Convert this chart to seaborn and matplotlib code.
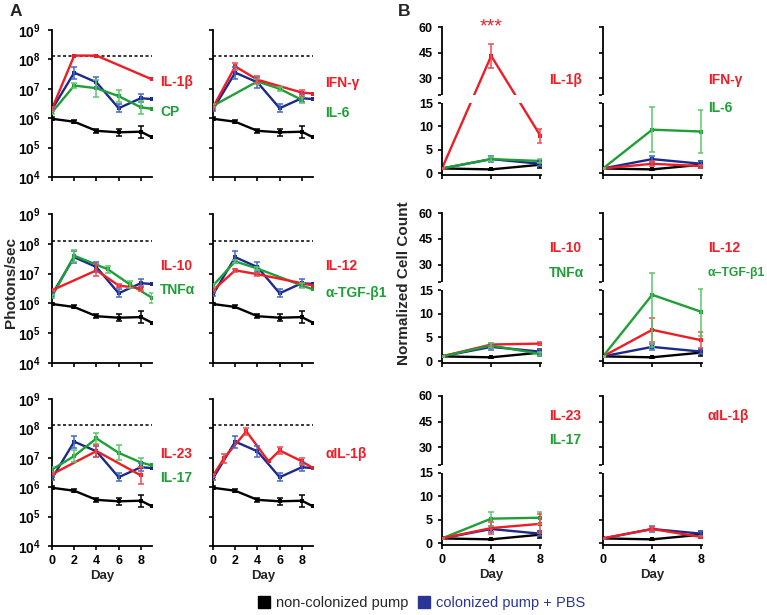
import numpy as np
import matplotlib
matplotlib.use('Agg')
import matplotlib.pyplot as plt
import seaborn as sns
from matplotlib.lines import Line2D
from matplotlib.patches import Rectangle
from matplotlib.ticker import NullLocator
from matplotlib.transforms import blended_transform_factory

sns.set_style('ticks')
plt.rcParams['font.family'] = ['Liberation Sans', 'DejaVu Sans']
plt.rcParams['mathtext.fontset'] = 'custom'
plt.rcParams['mathtext.rm'] = 'Liberation Sans:bold'
plt.rcParams['mathtext.bf'] = 'Liberation Sans:bold'
plt.rcParams['mathtext.it'] = 'Liberation Sans:bold'

RED = '#ee1d25'
RED_E = '#f04a50'
GREEN = '#1e9f36'
GREEN_E = '#5cc66b'
BLUE = '#1b2a8c'
BLUE_E = '#4468c8'
BLACK = '#000000'

# --- Panel A: bioluminescence, log10(photons/sec) ---
ctrl_a_days = [0, 2, 4, 6, 8, 9]
ctrl_a_log = [5.98, 5.88, 5.57, 5.52, 5.54, 5.35]
ctrl_a_err = [0.05, 0.05, 0.06, 0.12, 0.2, 0]
pbs_a_days = [0, 2, 4, 6, 8, 9]
pbs_a_log = [6.3, 7.55, 7.22, 6.34, 6.68, 6.65]
pbs_a_err = [0.05, 0.2, 0.18, 0.14, 0.13, 0]

il1b_days = [0, 2, 4, 9]
il1b_log = [6.32, 8.13, 8.13, 7.32]
il1b_err = [0.05, 0, 0, 0]
cp_days = [0, 2, 4, 6, 8, 9]
cp_log = [6.2, 7.11, 7.02, 6.75, 6.37, 6.32]
cp_err = [0.05, 0.08, 0.29, 0.2, 0.22, 0]
ifng_days = [0, 2, 4, 8, 9]
ifng_log = [6.37, 7.76, 7.31, 6.87, 6.84]
ifng_err = [0.06, 0.12, 0.12, 0.1, 0]
il6_days = [0, 4, 6, 8]
il6_log = [6.42, 7.25, 7.0, 6.62]
il6_err = [0.05, 0.1, 0.06, 0.1]
il10_days = [0, 4, 6, 8]
il10_log = [6.44, 7.11, 6.6, 6.5]
il10_err = [0.03, 0.2, 0.05, 0.08]
tnfa_days = [0, 2, 5, 7, 9]
tnfa_log = [6.23, 7.6, 7.15, 6.64, 6.19]
tnfa_err = [0.05, 0.2, 0.12, 0.12, 0.17]
il12_days = [0, 2, 4, 9]
il12_log = [6.44, 7.11, 6.98, 6.6]
il12_err = [0.03, 0.05, 0.05, 0]
tgfb_days = [0, 2, 4, 8, 9]
tgfb_log = [6.6, 7.41, 7.17, 6.6, 6.47]
tgfb_err = [0.05, 0.05, 0.05, 0.1, 0]
il23_days = [0, 4, 8]
il23_log = [6.44, 7.23, 6.4]
il23_err = [0.03, 0.2, 0.3]
il17_days = [0, 2, 4, 6, 8, 9]
il17_log = [6.6, 7.06, 7.66, 7.17, 6.84, 6.74]
il17_err = [0.08, 0.2, 0.2, 0.25, 0.15, 0]
ail1b_days = [0, 1, 3, 5, 6, 8, 9]
ail1b_log = [6.39, 6.99, 7.9, 6.88, 7.25, 6.88, 6.65]
ail1b_err = [0.05, 0.15, 0.13, 0, 0.12, 0.12, 0]
limit_log = 8.11

# --- Panel B: normalized cell count ---
days_b = [0, 4, 8]
ctrl_b = [1.0, 0.8, 1.8]
ctrl_b_err = [0.1, 0.15, 0.8]
pbs_b = [1.0, 3.0, 2.0]
pbs_b_err = [0.1, 0.6, 0.5]
il1b_b = [1.0, 43.0, 8.0]
il1b_b_err = [0.1, 7.2, 1.5]
cp_b = [1.0, 3.0, 2.6]
cp_b_err = [0.1, 0.5, 0.4]
ifng_b = [1.0, 2.0, 1.5]
ifng_b_err = [0.1, 0.5, 0.3]
il6_b = [1.0, 9.3, 8.9]
il6_b_err = [0.1, 4.8, 4.6]
il10_b = [1.0, 3.5, 3.7]
il10_b_err = [0.1, 0.4, 0.3]
tnfa_b = [1.0, 3.3, 1.5]
tnfa_b_err = [0.1, 0.5, 0.4]
il12_b = [1.0, 6.6, 4.4]
il12_b_err = [0.1, 2.6, 1.7]
tgfb_b = [1.0, 14.0, 10.4]
tgfb_b_err = [0.1, 11.0, 5.0]
il23_b = [1.0, 3.2, 4.1]
il23_b_err = [0.1, 1.2, 2.0]
il17_b = [1.0, 5.2, 5.4]
il17_b_err = [0.1, 1.5, 1.3]
ail1b_b = [1.0, 3.0, 1.3]
ail1b_b_err = [0.1, 0.4, 0.3]

W, H = 767, 615
fig = plt.figure(figsize=(W / 100, H / 100), dpi=100)


def px_axes(left, top, right, bottom):
    return fig.add_axes([left / W, 1 - bottom / H, (right - left) / W, (bottom - top) / H])


def draw(ax, days, vals, errs, color, ecolor, log=False):
    days = np.asarray(days, float)
    vals = np.asarray(vals, float)
    errs = np.asarray(errs, float)
    if log:
        y = 10 ** vals
        lo = y - 10 ** (vals - errs)
        hi = 10 ** (vals + errs) - y
    else:
        y, lo, hi = vals, errs, errs
    ms = 3.5 if color == BLACK else 2.5
    sns.lineplot(x=days, y=y, ax=ax, color=color, lw=1.7, marker='s', ms=ms,
                 mew=0, sort=False, estimator=None, errorbar=None, legend=False)
    m = errs > 0
    ax.errorbar(days[m], y[m], yerr=[lo[m], hi[m]], fmt='none', ecolor=ecolor,
                elinewidth=1.1, capsize=2, capthick=1.1, zorder=4)


def style_axis(ax):
    sns.despine(ax=ax)
    for s in ('left', 'bottom'):
        ax.spines[s].set_linewidth(1.3)
        ax.spines[s].set_color('black')
    ax.tick_params(length=3, width=1.2, colors='black', labelsize=9)
    for lab in ax.get_xticklabels() + ax.get_yticklabels():
        lab.set_fontweight('bold')


# ---------------- Panel A ----------------
a_cols = [(52, 152), (213, 313)]
a_rows = [(30, 177), (214, 363), (399, 546)]
a_label_x = [1.08, 1.12]
panels_a = [
    (0, 0, [(cp_days, cp_log, cp_err, GREEN, GREEN_E), (il1b_days, il1b_log, il1b_err, RED, RED_E)],
     [('IL-1β', RED, 0.646), ('CP', GREEN, 0.44)]),
    (0, 1, [(il6_days, il6_log, il6_err, GREEN, GREEN_E), (ifng_days, ifng_log, ifng_err, RED, RED_E)],
     [('IFN-γ', RED, 0.64), ('IL-6', GREEN, 0.435)]),
    (1, 0, [(tnfa_days, tnfa_log, tnfa_err, GREEN, GREEN_E), (il10_days, il10_log, il10_err, RED, RED_E)],
     [('IL-10', RED, 0.65), ('TNFα', GREEN, 0.49)]),
    (1, 1, [(tgfb_days, tgfb_log, tgfb_err, GREEN, GREEN_E), (il12_days, il12_log, il12_err, RED, RED_E)],
     [('IL-12', RED, 0.65), ('α-TGF-β1', GREEN, 0.47)]),
    (2, 0, [(il17_days, il17_log, il17_err, GREEN, GREEN_E), (il23_days, il23_log, il23_err, RED, RED_E)],
     [('IL-23', RED, 0.626), ('IL-17', GREEN, 0.46)]),
    (2, 1, [(ail1b_days, ail1b_log, ail1b_err, RED, RED_E)],
     [('αIL-1β', RED, 0.626)]),
]

decades = [4, 5, 6, 7, 8, 9]
for row, col, series, labels in panels_a:
    l, r = a_cols[col]
    t, b = a_rows[row]
    ax = px_axes(l, t, r, b)
    ax.set_yscale('log')
    ax.axhline(10 ** limit_log, color='black', lw=1.1, ls=(0, (2, 1.6)), zorder=1)
    draw(ax, ctrl_a_days, ctrl_a_log, ctrl_a_err, BLACK, BLACK, log=True)
    draw(ax, pbs_a_days, pbs_a_log, pbs_a_err, BLUE, BLUE_E, log=True)
    for d, v, e, c, ec in series:
        draw(ax, d, v, e, c, ec, log=True)
    ax.set_xlim(0, 9)
    ax.set_ylim(1e4, 1e9)
    ax.set_xticks([0, 2, 4, 6, 8])
    ax.set_yticks([10.0 ** k for k in decades])
    ax.yaxis.set_minor_locator(NullLocator())
    if col == 0:
        ax.set_yticklabels([rf'$10^{{{k}}}$' for k in decades])
    else:
        ax.set_yticklabels([])
    if row == 2:
        ax.set_xticklabels(['0', '2', '4', '6', '8'])
        ax.set_xlabel('Day', fontsize=9.5, fontweight='bold', labelpad=2)
    else:
        ax.set_xticklabels([])
    ax.set_ylabel('')
    style_axis(ax)
    ax.tick_params(axis='y', pad=5, labelsize=10)
    for txt, c, yy in labels:
        ax.text(a_label_x[col], yy, txt, transform=ax.transAxes, color=c,
                fontsize=10, fontweight='bold', va='center', ha='left')

# ---------------- Panel B (broken axis 15 -> 20) ----------------
KN_X = [-100.0, 15.0, 20.0, 500.0]
KN_Y = [-100.0, 15.0, 16.71, 16.71 + 480.0 * 0.364]


def fwd(y):
    y = np.asarray(y, float)
    return np.interp(y.ravel(), KN_X, KN_Y).reshape(y.shape)


def inv(y):
    y = np.asarray(y, float)
    return np.interp(y.ravel(), KN_Y, KN_X).reshape(y.shape)


b_cols = [(442, 541), (603, 702)]
b_rows = [(27, 175), (213, 363), (396, 545)]
b_label_x = [1.08, 1.06]
panels_b = [
    (0, 0, [(cp_b, cp_b_err, GREEN, GREEN_E), (il1b_b, il1b_b_err, RED, RED_E)],
     [('IL-1β', RED, 0.64, 10)]),
    (0, 1, [(ifng_b, ifng_b_err, RED, RED_E), (il6_b, il6_b_err, GREEN, GREEN_E)],
     [('IFN-γ', RED, 0.64, 10), ('IL-6', GREEN, 0.456, 10)]),
    (1, 0, [(il10_b, il10_b_err, RED, RED_E), (tnfa_b, tnfa_b_err, GREEN, GREEN_E)],
     [('IL-10', RED, 0.77, 10), ('TNFα', GREEN, 0.60, 10)]),
    (1, 1, [(il12_b, il12_b_err, RED, RED_E), (tgfb_b, tgfb_b_err, GREEN, GREEN_E)],
     [('IL-12', RED, 0.77, 10), ('α–TGF-β1', GREEN, 0.60, 8.8)]),
    (2, 0, [(il17_b, il17_b_err, GREEN, GREEN_E), (il23_b, il23_b_err, RED, RED_E)],
     [('IL-23', RED, 0.866, 10), ('IL-17', GREEN, 0.705, 10)]),
    (2, 1, [(ail1b_b, ail1b_b_err, RED, RED_E)],
     [('αIL-1β', RED, 0.866, 10)]),
]

for row, col, series, labels in panels_b:
    l, r = b_cols[col]
    t, b = b_rows[row]
    ax = px_axes(l, t, r, b)
    draw(ax, days_b, ctrl_b, ctrl_b_err, BLACK, BLACK)
    draw(ax, days_b, pbs_b, pbs_b_err, BLUE, BLUE_E)
    for v, e, c, ec in series:
        draw(ax, days_b, v, e, c, ec)
    ax.set_yscale('function', functions=(fwd, inv))
    ax.set_xlim(0, 8.05)
    ax.set_ylim(-0.4, 60)
    ax.set_xticks([0, 4, 8])
    ax.set_yticks([0, 5, 10, 15, 20, 30, 45, 60])
    ax.yaxis.set_minor_locator(NullLocator())
    if col == 0:
        ax.set_yticklabels(['0', '5', '10', '15', '', '30', '45', '60'])
    else:
        ax.set_yticklabels([])
    if row == 2:
        ax.set_xticklabels(['0', '4', '8'])
        ax.set_xlabel('Day', fontsize=9.5, fontweight='bold', labelpad=2)
    else:
        ax.set_xticklabels([])
    ax.set_ylabel('')
    style_axis(ax)
    tr = blended_transform_factory(ax.transAxes, ax.transData)
    ax.add_patch(Rectangle((-0.015, 15), 1.03, 5, transform=tr, facecolor='white',
                           edgecolor='none', zorder=3, clip_on=False))
    for txt, c, yy, fs in labels:
        ax.text(b_label_x[col], yy, txt, transform=ax.transAxes, color=c,
                fontsize=fs, fontweight='bold', va='center', ha='left')
    if row == 0 and col == 0:
        ax.text(4, 1.0, '***', transform=blended_transform_factory(ax.transData, ax.transAxes),
                color=RED, fontsize=14, ha='center', va='center')

# ---------------- figure text ----------------
fig.text(10 / W, 1 - 12 / H, 'A', fontsize=12.5, fontweight='bold', va='center', ha='left')
fig.text(398 / W, 1 - 12 / H, 'B', fontsize=12.5, fontweight='bold', va='center', ha='left')
fig.text(11 / W, 1 - 283 / H, 'Photons/sec', rotation=90, fontsize=11, fontweight='bold',
         va='center', ha='center')
fig.text(404 / W, 1 - 283 / H, 'Normalized Cell Count', rotation=90, fontsize=11,
         fontweight='bold', va='center', ha='center')

handles = [Line2D([], [], marker='s', color=BLACK, ls='none', ms=8),
           Line2D([], [], marker='s', color='#2b3595', ls='none', ms=8)]
leg = fig.legend(handles, ['non-colonized pump', 'colonized pump + PBS'], ncol=2,
                 loc='center', bbox_to_anchor=(421 / W, 1 - 603 / H), frameon=False,
                 fontsize=10.5, handletextpad=0.3, columnspacing=0.6, handlelength=1)
leg.get_texts()[1].set_color('#2b3595')

fig.savefig('out.png', dpi=100)
